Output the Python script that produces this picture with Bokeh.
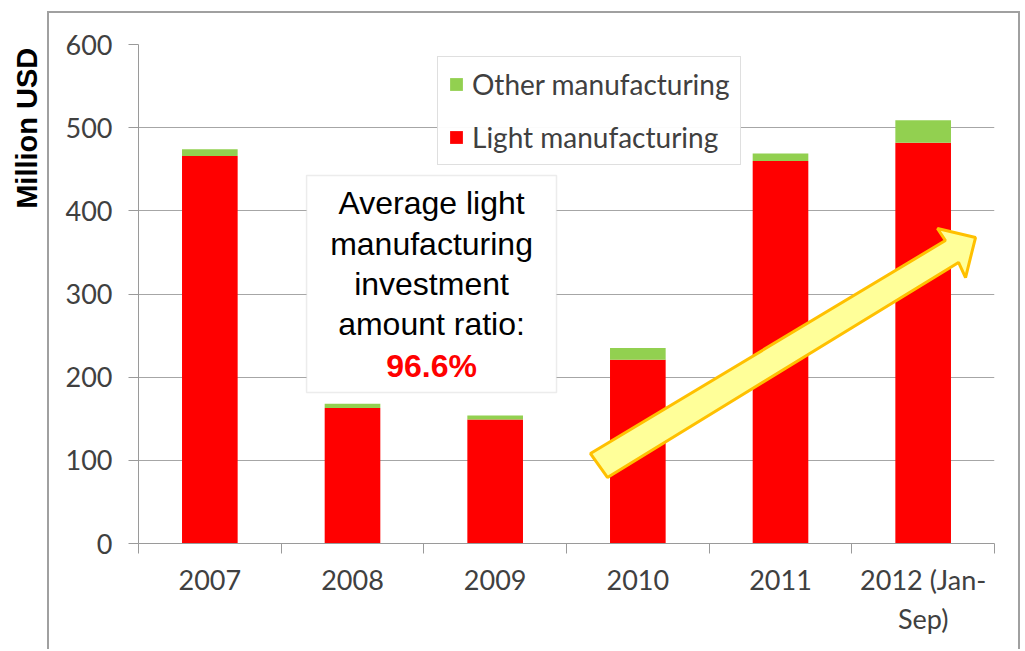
import numpy as np
from bokeh.plotting import figure
from bokeh.layouts import row
from bokeh.models import (Range1d, FixedTicker, Legend, LegendItem, Label,
                          BoxAnnotation, ColumnDataSource)
from bokeh.embed import file_html
from bokeh.resources import INLINE

# ---- data ----
categories = ["2007", "2008", "2009", "2010", "2011", "2012 (Jan-Sep)"]
tick_labels = ["2007", "2008", "2009", "2010", "2011", "2012 (Jan-\nSep)"]
light_manufacturing = [466, 163, 149, 221, 460, 482]
other_manufacturing = [8, 5, 5, 14, 9, 27]
y_ticks = [0, 100, 200, 300, 400, 500, 600]
series_names = ["Light manufacturing", "Other manufacturing"]
series_colors = ["#FF0000", "#92D050"]
y_title = "Million USD"

# arrow decoration (data coordinates)
arrow_x = [3.168, 5.656, 5.600, 5.867, 5.797, 5.748, 3.287]
arrow_y = [108.2, 364.3, 378.8, 367.9, 319.8, 337.9, 79.4]

# ---- left strip with the rotated axis title ----
H_TOTAL = 651
lab = figure(width=47, height=H_TOTAL, x_range=Range1d(0, 47), y_range=Range1d(0, H_TOTAL),
             x_axis_type=None, y_axis_type=None, output_backend="svg",
             toolbar_location=None, min_border=0)
lab.outline_line_color = None
lab.grid.visible = False
lab.text(x=[26], y=[H_TOTAL - 123], text=[y_title], angle=np.pi / 2,
         text_align="center", text_baseline="middle",
         text_font={"value": "Liberation Sans"}, text_font_style="bold",
         text_font_size="29px", text_color="black")

# ---- main chart ----
xs = [i + 0.5 for i in range(len(categories))]
src = ColumnDataSource(dict(x=xs, light=light_manufacturing, other=other_manufacturing))

p = figure(width=973, height=638, x_range=Range1d(0, len(categories)),
           y_range=Range1d(0, 600), output_backend="svg", toolbar_location=None,
           min_border_left=89, min_border_right=28, min_border_top=31,
           min_border_bottom=108)
p.margin = (11, 0, 0, 0)
p.styles = {"border-left": "2px solid #A0A0A0", "border-top": "2px solid #A0A0A0",
            "border-right": "2px solid #A0A0A0"}
p.outline_line_color = None
p.background_fill_color = "white"
p.border_fill_color = "white"

rs = p.vbar_stack(["light", "other"], x="x", width=0.39, color=series_colors,
                  line_color=None, source=src)

# axes
p.xaxis.ticker = FixedTicker(ticks=xs, minor_ticks=list(range(len(categories) + 1)))
p.xaxis.major_label_overrides = {x: l for x, l in zip(xs, tick_labels)}
p.xaxis.major_tick_line_color = None
p.xaxis.major_tick_out = 0
p.xaxis.major_tick_in = 0
p.xaxis.minor_tick_out = 10
p.xaxis.minor_tick_in = 0
p.xaxis.minor_tick_line_color = "#9A9A9A"
p.xaxis.axis_line_color = "#9A9A9A"
p.xaxis.major_label_standoff = 9

p.yaxis.ticker = FixedTicker(ticks=y_ticks)
p.yaxis.major_tick_out = 10
p.yaxis.major_tick_in = 0
p.yaxis.major_tick_line_color = "#9A9A9A"
p.yaxis.axis_line_color = "#9A9A9A"
p.yaxis.major_label_standoff = 16

for ax in (p.xaxis, p.yaxis):
    ax.major_label_text_font = "Lato"
    ax.major_label_text_font_size = "27px"
    ax.major_label_text_color = "#404040"

p.xgrid.visible = False
p.ygrid.grid_line_color = "#A6A6A6"
p.ygrid.grid_line_width = 1.2

# arrow
p.patch(arrow_x, arrow_y, fill_color="#FFFF99", line_color="#FFC000", line_width=3)

# annotation box
p.add_layout(BoxAnnotation(left=1.178, right=2.93, bottom=181.6, top=442.5,
                           fill_color="white", fill_alpha=1,
                           line_color="#BFBFBF", line_width=1.5))
box_lines = ["Average light", "manufacturing", "investment", "amount ratio:"]
line_y = [409, 360, 312, 264]
for t, yy in zip(box_lines, line_y):
    p.add_layout(Label(x=2.054, y=yy, text=t, text_align="center",
                       text_baseline="middle", text_font="Liberation Sans",
                       text_font_size="32px", text_color="black"))
p.add_layout(Label(x=2.054, y=214, text="96.6%", text_align="center",
                   text_baseline="middle", text_font="Liberation Sans",
                   text_font_style="bold", text_font_size="32px",
                   text_color="#FF0000"))

legend = Legend(items=[LegendItem(label=series_names[1], renderers=[rs[1]]),
                       LegendItem(label=series_names[0], renderers=[rs[0]])],
                location=(299, 378))
legend.label_text_font = "Lato"
legend.label_text_font_size = "28px"
legend.label_text_color = "#404040"
legend.glyph_width = 16
legend.glyph_height = 16
legend.label_height = 32
legend.spacing = 19
legend.padding = 10
legend.margin = 0
legend.label_standoff = 8
legend.border_line_color = "#BFBFBF"
legend.border_line_width = 1.5
p.add_layout(legend)

layout = row(lab, p)
open("out.html", "w").write(file_html(layout, INLINE))
